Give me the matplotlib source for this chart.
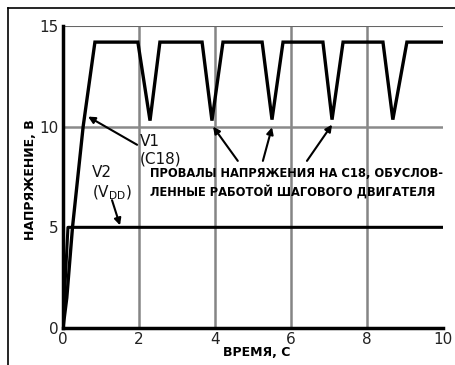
import matplotlib.pyplot as plt
from matplotlib.lines import Line2D

# V1 (C18) trace: time, volts
t_v1 = [0, 0.1, 0.25, 0.53, 0.84, 1.97, 2.29, 2.55, 3.66, 3.92, 4.21,
        5.24, 5.5, 5.79, 6.84, 7.08, 7.37, 8.42, 8.68, 9.05, 10]
u_v1 = [0, 1.5, 5.0, 10.0, 14.2, 14.2, 10.3, 14.2, 14.2, 10.3, 14.2,
        14.2, 10.35, 14.2, 14.2, 10.35, 14.2, 14.2, 10.35, 14.2, 14.2]

# V2 (VDD) trace
t_v2 = [0, 0.05, 0.13, 10]
u_v2 = [0, 2.0, 5.0, 5.0]

x_ticks = [0, 2, 4, 6, 8, 10]
y_ticks = [0, 5, 10, 15]

caption = "ПРОВАЛЫ НАПРЯЖЕНИЯ НА C18, ОБУСЛОВ-\nЛЕННЫЕ РАБОТОЙ ШАГОВОГО ДВИГАТЕЛЯ"

plt.rcParams['font.family'] = ['DejaVu Sans']

fig = plt.figure(figsize=(4.55, 3.65), dpi=100)
ax = fig.add_axes([63/455, 1-328/365, 380/455, 302/365])

# grid
for x in [2, 4, 6, 8]:
    ax.axvline(x, color='#858585', lw=1.8, zorder=1)
ax.axhline(10, color='#8a8a8a', lw=1.8, zorder=1)
ax.axhline(15, color='#666666', lw=1.5, zorder=1)

ax.plot(t_v2, u_v2, color='black', lw=2.2, zorder=3)
ax.plot(t_v1, u_v1, color='black', lw=2.4, zorder=4, solid_joinstyle='miter')

ax.set_xlim(0, 10)
ax.set_ylim(0, 15)
ax.set_xticks(x_ticks)
ax.set_yticks(y_ticks)
ax.tick_params(length=0, labelsize=11, pad=3, colors='#222222')
for s in ['top', 'right']:
    ax.spines[s].set_visible(False)
for s in ['left', 'bottom']:
    ax.spines[s].set_linewidth(2.5)

aprops = dict(arrowstyle='-|>', color='black', lw=1.5, mutation_scale=10,
              shrinkA=0, shrinkB=0)

ax.text(2.03, 9.65, "V1\n(C18)", fontsize=11, ha='left', va='top', linespacing=1.25,
        color='#111111')
ax.annotate("", xy=(0.66, 10.5), xytext=(1.95, 9.1), arrowprops=aprops)

ax.text(0.76, 8.1, "V2\n(V$_{\\mathregular{DD}}$)", fontsize=11, ha='left', va='top',
        linespacing=1.25, color='#111111')
ax.annotate("", xy=(1.5, 5.1), xytext=(1.29, 6.35), arrowprops=aprops)

ax.text(2.29, 8.0, caption, fontsize=8.3, fontweight='bold', ha='left', va='top',
        linespacing=1.45)
for start, end in [((4.6, 8.3), (3.95, 10.0)),
                   ((5.26, 8.3), (5.5, 9.97)),
                   ((6.42, 8.3), (7.08, 10.1))]:
    ax.annotate("", xy=end, xytext=start, arrowprops=aprops)

fig.text(30/455, 1-180/365, "НАПРЯЖЕНИЕ, В", rotation=90, fontsize=9,
         fontweight='bold', ha='center', va='center')
fig.text(257/455, 1-352/365, "ВРЕМЯ, С", fontsize=9, fontweight='bold',
         ha='center', va='center')

# outer frame (left and top edges)
fig.add_artist(Line2D([8/455, 8/455], [0, 1-8/365], color='black', lw=1.2,
                      transform=fig.transFigure))
fig.add_artist(Line2D([8/455, 1], [1-8/365, 1-8/365], color='black', lw=1.2,
                      transform=fig.transFigure))

fig.savefig('out.png', dpi=100)
